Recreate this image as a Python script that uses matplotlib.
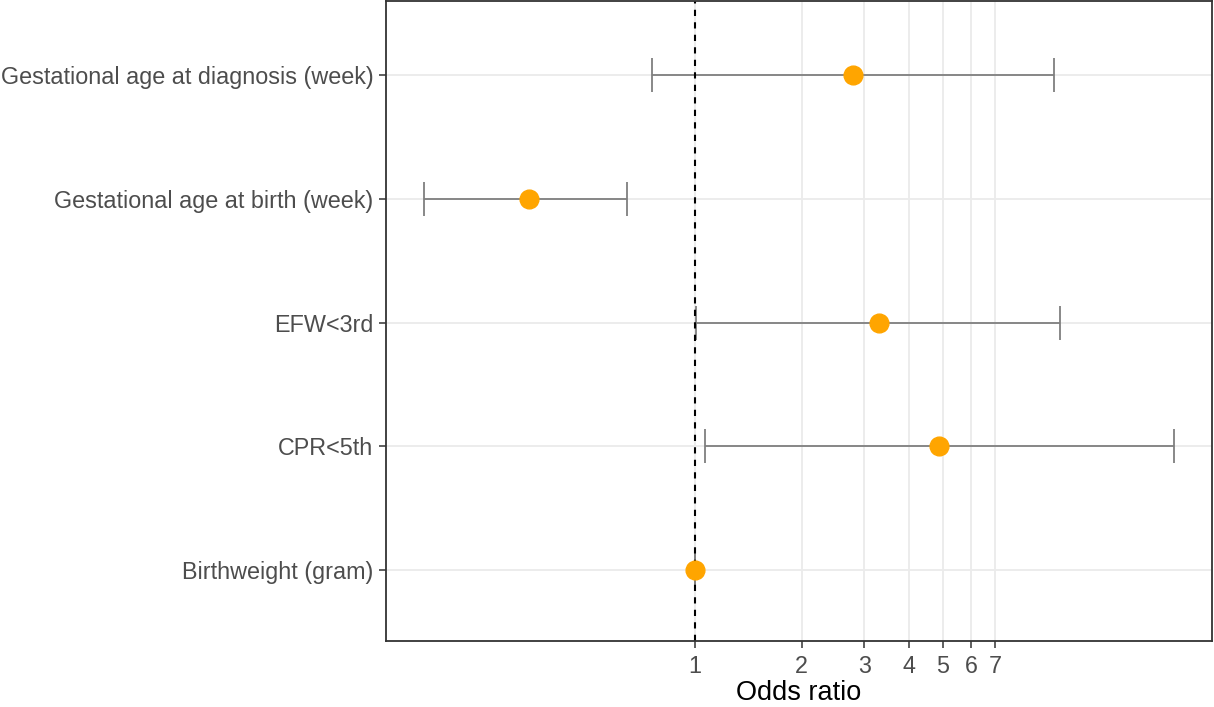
import matplotlib
matplotlib.use("Agg")
import matplotlib.pyplot as plt
from matplotlib.ticker import FixedLocator, FixedFormatter, NullLocator

plt.rcParams["font.family"] = ["Liberation Sans", "DejaVu Sans"]

labels = ["Birthweight (gram)", "CPR<5th", "EFW<3rd",
          "Gestational age at birth (week)", "Gestational age at diagnosis (week)"]
odds = [1.0, 4.87, 3.30, 0.341, 2.79]
lower = [0.998, 1.07, 1.006, 0.173, 0.757]
upper = [1.002, 22.4, 10.7, 0.643, 10.3]
xticks = [1, 2, 3, 4, 5, 6, 7]

fig = plt.figure(figsize=(12.14, 7.07), dpi=100)
ax = fig.add_axes([386/1214, 1 - 641/707, (1212-386)/1214, 640/707])
ax.set_xscale("log")
ypos = list(range(1, len(labels) + 1))

for y in ypos:
    ax.axhline(y, color="#EBEBEB", lw=1.3, zorder=0)
for t in xticks:
    ax.axvline(t, color="#EBEBEB", lw=1.3, zorder=0)

ax.errorbar(odds, ypos, xerr=[[o - l for o, l in zip(odds, lower)],
                              [u - o for o, u in zip(odds, upper)]],
            fmt="none", ecolor="#7F7F7F", elinewidth=1.3, capsize=12, capthick=1.3, zorder=2)
ax.plot(odds, ypos, "o", color="#FFA500", markersize=13.5, zorder=3)
ax.axvline(1, color="black", lw=1.5, ls=(0, (3, 3)), zorder=2.5)

ax.set_xlim(0.135, 28.6)
ax.set_ylim(0.425, 5.6)
ax.xaxis.set_major_locator(FixedLocator(xticks))
ax.xaxis.set_major_formatter(FixedFormatter([str(t) for t in xticks]))
ax.xaxis.set_minor_locator(NullLocator())
ax.set_yticks(ypos)
ax.set_yticklabels(labels)
ax.tick_params(axis="both", colors="#333333", labelcolor="#4D4D4D", labelsize=16.8, length=5, width=1.1)
ax.tick_params(axis="y", pad=4)
ax.tick_params(axis="x", pad=5)
ax.set_xlabel("Odds ratio", fontsize=19.5, color="black", labelpad=1.5)
for s in ax.spines.values():
    s.set_color("#333333")
    s.set_linewidth(1.3)

fig.savefig("out.png", dpi=100)
